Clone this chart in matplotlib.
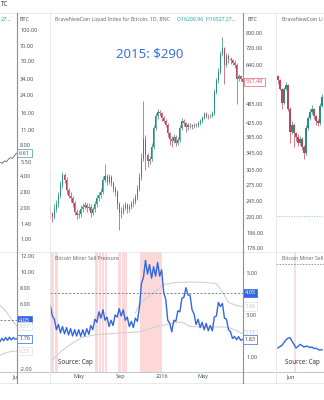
import numpy as np
import matplotlib
matplotlib.use("Agg")
import matplotlib.pyplot as plt
from matplotlib import ticker
from matplotlib.transforms import blended_transform_factory as blend

plt.rcParams['font.family'] = ['Noto Sans', 'DejaVu Sans']

# ---- data ----
# centre chart: one candle every 6 days from 2015-02-04
start = np.datetime64('2015-02-04')
step_days = 6
close = [225, 220, 232, 240, 255, 275, 295, 285, 265, 255,
         250, 242, 228, 222, 224, 232, 236, 238, 234, 236,
         226, 232, 240, 250, 256, 262, 285, 292, 280, 290,
         278, 268, 262, 240, 226, 228, 234, 238, 232, 236,
         240, 244, 252, 268, 290, 330, 380, 340, 325, 330,
         360, 410, 445, 460, 455, 440, 432, 420, 395, 380,
         375, 385, 370, 378, 410, 430, 425, 412, 420, 418,
         415, 420, 418, 425, 430, 440, 452, 448, 445, 448,
         455, 530, 575, 610, 690, 720, 640, 680, 665, 660,
         650, 640, 580, 590, 580, 567]
high = [238, 228, 240, 248, 262, 282, 302, 300, 290, 270,
        262, 254, 246, 232, 230, 238, 242, 244, 242, 242,
        240, 236, 246, 256, 262, 270, 292, 318, 296, 296,
        294, 282, 272, 266, 244, 236, 240, 244, 242, 240,
        246, 250, 258, 274, 298, 345, 495, 390, 345, 338,
        368, 418, 455, 468, 466, 460, 448, 438, 424, 400,
        388, 392, 390, 384, 418, 440, 436, 428, 426, 424,
        422, 426, 424, 430, 436, 446, 460, 458, 452, 454,
        462, 540, 585, 625, 705, 780, 725, 695, 690, 675,
        668, 660, 648, 600, 596, 588]
low = [218, 212, 217, 228, 236, 250, 270, 278, 258, 250,
       244, 236, 222, 216, 218, 220, 228, 232, 228, 230,
       220, 222, 228, 236, 246, 250, 258, 280, 274, 276,
       272, 262, 255, 232, 200, 218, 224, 230, 226, 228,
       232, 236, 240, 248, 264, 285, 325, 305, 312, 318,
       326, 355, 405, 438, 445, 432, 425, 412, 385, 365,
       360, 370, 362, 365, 372, 405, 415, 400, 406, 410,
       408, 410, 412, 414, 420, 426, 436, 440, 438, 440,
       444, 450, 520, 565, 600, 680, 560, 630, 650, 645,
       638, 625, 485, 570, 572, 560]
first_open = 230

# Bitcoin Miner Sell Pressure (same 6-day grid)
pressure = [3.45, 2.95, 2.8, 2.3, 2.55, 2.15, 2.45, 2.1, 2.4, 2.05,
            2.35, 2.0, 2.3, 2.0, 2.3, 1.98, 2.3, 2.0, 2.35, 2.08,
            2.5, 2.3, 2.8, 2.65, 3.15, 2.85, 3.25, 2.75, 2.9, 2.45,
            2.75, 2.5, 3.0, 2.9, 3.3, 2.95, 3.25, 2.75, 2.9, 2.45,
            2.7, 2.4, 2.85, 2.7, 3.35, 4.5, 4.8, 5.6, 4.95, 5.4,
            4.75, 5.3, 4.85, 5.5, 4.85, 5.15, 4.05, 3.75, 2.75, 2.6,
            2.2, 2.75, 2.7, 3.2, 3.15, 3.8, 3.85, 4.3, 3.95, 3.95,
            3.25, 3.05, 2.55, 2.8, 2.4, 2.65, 2.3, 2.6, 2.25, 2.5,
            2.25, 2.9, 2.95, 3.6, 3.4, 3.55, 2.85, 2.8, 2.3, 2.2,
            1.88, 1.98, 1.82, 1.97, 1.8, 1.83]
lower_idx = [1, 5, 10, 16, 22, 28, 36, 44, 50, 56, 61, 65, 69, 78, 87, 91, 95]
lower_val = [0.86, 1.25, 1.6, 1.95, 2.05, 2.1, 2.15, 2.2, 2.38, 2.52, 2.62, 2.67,
             2.45, 2.43, 2.43, 2.3, 2.11]
upper_idx = [42, 44, 48, 51, 56, 62, 69, 76, 82, 85, 88, 92, 95]
upper_val = [3.1, 3.5, 3.85, 4.05, 4.45, 4.55, 4.57, 4.55, 4.5, 4.1, 3.6, 3.45, 3.4]
band_start = [3, 15, 133, 145, 153, 162, 202, 212, 219, 266, 298]
band_end = [12, 22, 142, 151, 159, 168, 210, 217, 227, 297, 331]
sell_level = 4.05

price_ticks = [800, 720, 640, 485, 425, 385, 345, 305, 275, 245, 220, 196, 176]
pressure_ticks = [5, 3, 1]
month_dates = ['2015-05-01', '2015-09-01', '2016-01-01', '2016-05-01']
month_labels = ['May', 'Sep', '2016', 'May']

# left (cut off) chart
left_close = [5.4, 5.3, 5.6, 5.5, 5.8, 6.0, 5.9, 6.3, 6.61]
left_ticks = [100, 70, 50, 34, 24, 16, 11, 8, 5.5, 4, 2.8, 2, 1.4, 1]
left_pressure = [1.4, 1.8, 1.5, 1.9, 1.55, 1.95, 1.6, 1.9, 1.7, 1.76]
left_upper = [5.9, 5.5, 5.0, 4.4, 3.8, 3.33]
left_lower = [-0.3, -0.1, 0.05, 0.15, 0.2, 0.23]
left_pressure_ticks = [12, 10, 8, 6, -2]

# right (cut off) chart
right_close = [575, 540, 490, 540, 555, 470, 400, 420, 395, 385, 370, 380,
               360, 345, 410, 440, 460, 470, 445, 430, 425, 480, 510]
right_high = [595, 580, 545, 548, 568, 560, 475, 432, 425, 400, 392, 388,
              385, 365, 418, 448, 468, 482, 472, 450, 438, 488, 522]
right_low = [560, 535, 470, 485, 535, 462, 370, 392, 360, 375, 362, 364,
             352, 330, 340, 405, 435, 452, 438, 420, 415, 420, 474]
right_pressure = [1.43, 1.5, 1.55, 1.7, 1.81, 1.9, 1.92, 1.75, 1.6, 1.43,
                  1.5, 1.6, 1.55, 1.47, 1.52, 1.5, 1.45, 1.48, 1.4, 1.42, 1.36, 1.33, 1.35]
right_level = 5.43
right_support = 220.6

UP, DOWN = '#2a8f7e', '#b8485a'
BLUE = '#3366e0'
TXT = '#50535e'

W, H = 324, 400
fig = plt.figure(figsize=(W / 100, H / 100), dpi=100)


def px_axes(x0, y0, x1, y1):
    ax = fig.add_axes([x0 / W, 1 - y1 / H, (x1 - x0) / W, (y1 - y0) / H])
    for s in ax.spines.values():
        s.set_visible(False)
    ax.tick_params(length=0, labelsize=4, colors=TXT, pad=2.3)
    return ax


def candles(ax, x, o, c, hi, lo, width):
    o, c = np.asarray(o, float), np.asarray(c, float)
    cols = [UP if b >= a else DOWN for a, b in zip(o, c)]
    ax.vlines(x, lo, hi, colors=cols, lw=0.5)
    ax.bar(x, np.abs(c - o), bottom=np.minimum(o, c), width=width,
           color=cols, lw=0)


def right_scale(ax, ticks, fmt='%.2f'):
    ax.yaxis.tick_right()
    ax.set_yticks(ticks)
    ax.yaxis.set_major_formatter(ticker.FormatStrFormatter(fmt))
    ax.yaxis.set_minor_locator(ticker.NullLocator())


def tag(ax, y, text, fc, ec, tc, x=1.1):
    ax.text(x, y, text, transform=blend(ax.transAxes, ax.transData),
            fontsize=4, color=tc, va='center', ha='left',
            bbox=dict(boxstyle='square,pad=0.3', fc=fc, ec=ec, lw=0.5),
            clip_on=False)


# ---- centre chart ----
days = np.arange(len(close)) * step_days
opens = [first_open] + close[:-1]
ax_p = px_axes(50, 13, 243, 252)
ax_p.set_yscale('log')
candles(ax_p, days, opens, close, high, low, 3.0)
ax_p.set_xlim(-1, 571)
ax_p.set_ylim(171.6, 921)
right_scale(ax_p, price_ticks)
ax_p.set_xticks([])
tag(ax_p, close[-1], '567.48', 'white', '#e0606e', '#e0606e', x=1.015)

ax_i = px_axes(50, 252, 243, 372)
for a, b in zip(band_start, band_end):
    ax_i.axvspan(a, b, color='#fcd8d8', lw=0)
ax_i.plot(np.array(lower_idx) * step_days, lower_val, color='#cfd1d6', lw=0.8)
ax_i.plot(np.array(upper_idx) * step_days, upper_val, color='#cfd1d6', lw=0.8)
ax_i.axhline(sell_level, color='#6b7391', lw=0.6, dashes=(2.5, 2))
ax_i.plot(days, pressure, color=BLUE, lw=1.0)
ax_i.set_xlim(-1, 571)
ax_i.set_ylim(0.286, 6.0)
right_scale(ax_i, pressure_ticks)
md = [(np.datetime64(d) - start).astype(int) for d in month_dates]
ax_i.set_xticks(md)
ax_i.set_xticklabels(month_labels)
ax_i.tick_params(axis='x', pad=1.5)
tag(ax_i, sell_level, '4.05', BLUE, BLUE, 'white', x=1.008)
tag(ax_i, upper_val[-1], '3.40', 'white', '#dfe1e6', '#c8cad0', x=1.008)
tag(ax_i, lower_val[-1], '2.11', 'white', '#dfe1e6', '#c8cad0', x=1.008)
tag(ax_i, pressure[-1], '1.83', 'white', BLUE, TXT, x=1.008)

# ---- left chart ----
ax_lp = px_axes(0, 13, 17, 252)
ax_lp.set_yscale('log')
lx = np.arange(len(left_close)) * 2 + 0.5
ax_lp.plot(lx, left_close, color='#4d6f68', lw=0.6)
ax_lp.set_xlim(0, 17)
ax_lp.set_ylim(0.752, 145)
right_scale(ax_lp, left_ticks)
ax_lp.set_xticks([])
tag(ax_lp, left_close[-1], '6.61', 'white', '#3aa59a', TXT, x=1.12)

ax_li = px_axes(0, 252, 17, 372)
ax_li.plot(np.linspace(0, 17, len(left_upper)), left_upper, color='#cfd1d6', lw=0.8)
ax_li.plot(np.linspace(0, 17, len(left_lower)), left_lower, color='#cfd1d6', lw=0.8)
ax_li.axhline(4.05, color='#6b7391', lw=0.6, dashes=(2.5, 2))
ax_li.plot(np.linspace(0, 17, len(left_pressure)), left_pressure, color=BLUE, lw=1.0)
ax_li.set_xlim(0, 17)
ax_li.set_ylim(-2.37, 12.5)
right_scale(ax_li, left_pressure_ticks)
ax_li.set_xticks([14.5])
ax_li.set_xticklabels(['Ju'])
ax_li.tick_params(axis='x', pad=1.5)
tag(ax_li, 4.05, '4.05', BLUE, BLUE, 'white', x=1.12)
tag(ax_li, left_upper[-1], '3.37', 'white', '#dfe1e6', '#c8cad0', x=1.12)
tag(ax_li, left_pressure[-1], '1.76', 'white', BLUE, TXT, x=1.12)
tag(ax_li, left_lower[-1], '0.23', 'white', '#dfe1e6', '#c8cad0', x=1.12)

# ---- right chart ----
ax_rp = px_axes(276, 13, 324, 252)
ax_rp.set_yscale('log')
rx = np.arange(len(right_close)) + 0.0
ropen = [590] + right_close[:-1]
candles(ax_rp, rx, ropen, right_close, right_high, right_low, 0.6)
ax_rp.axhline(right_support, color='#8fd0c5', lw=0.6, dashes=(1.5, 1.5))
ax_rp.set_xlim(-1, 23)
ax_rp.set_ylim(171.6, 921)
ax_rp.set_xticks([])
ax_rp.set_yticks([])
ax_rp.yaxis.set_minor_locator(ticker.NullLocator())

ax_ri = px_axes(276, 252, 324, 372)
ax_ri.axvspan(8.2, 8.8, color='#f6e0e0', lw=0)
ax_ri.axhline(right_level, color='#8e919a', lw=0.6, dashes=(2, 1.5))
ax_ri.plot(rx, right_pressure, color=BLUE, lw=1.0)
ax_ri.set_xlim(-1, 23)
ax_ri.set_ylim(0.286, 6.0)
ax_ri.set_yticks([])
ax_ri.set_xticks([6.5])
ax_ri.set_xticklabels(['Jun'])
ax_ri.tick_params(axis='x', pad=1.5)

# ---- frame lines and texts ----
ov = fig.add_axes([0, 0, 1, 1], zorder=10)
ov.set_xlim(0, W)
ov.set_ylim(H, 0)
ov.axis('off')
ov.patch.set_alpha(0)
light, dark = '#e3e5ea', '#8c8f98'
for y in (13, 252, 383):
    ov.plot([0, W], [y, y], color=light, lw=0.6)
ov.plot([0, W], [372, 372], color='#b9bcc4', lw=0.6)
for x in (49.5, 276):
    ov.plot([x, x], [13, 383], color=light, lw=0.6)
for x in (17, 243):
    ov.plot([x, x], [13, 383], color=dark, lw=0.8)

ov.text(1, 5, 'TC', fontsize=4.5, color='#333333', va='center')
ov.text(1, 19.5, '27...', fontsize=4, color='#26a69a', va='center')
ov.text(20, 19.5, 'BTC', fontsize=4, color=TXT, va='center')
ov.text(247, 19.5, 'BTC', fontsize=4, color=TXT, va='center')
ov.text(55, 19.5, 'BraveNewCoin Liquid Index for Bitcoin, 1D, BNC',
        fontsize=3.7, color='#6a6d78', va='center')
ov.text(177, 19.5, 'O16200.96  H16527.27...', fontsize=3.7,
        color='#26a69a', va='center')
ov.text(282, 19.5, 'BraveNewCoin Li', fontsize=3.7, color='#6a6d78', va='center')
ov.text(150, 54, '2015: $290', fontsize=9.5, color='#3a6fd8',
        ha='center', va='center')
ov.text(55, 258, 'Bitcoin Miner Sell Pressure', fontsize=3.7, color='#6a6d78',
        va='center')
ov.text(282, 258, 'Bitcoin Miner Sell', fontsize=3.7, color='#6a6d78',
        va='center')
ov.text(58, 362, 'Source: Cap', fontsize=4.5, color='#333333', va='center')
ov.text(285, 362, 'Source: Cap', fontsize=4.5, color='#333333', va='center')

fig.savefig('out.png', dpi=100)
